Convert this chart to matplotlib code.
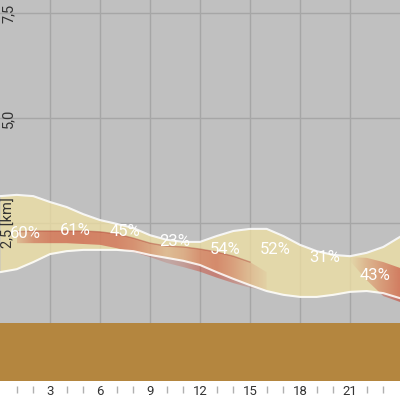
import matplotlib
matplotlib.use('Agg')
import matplotlib.pyplot as plt
import matplotlib.transforms as mtransforms
import matplotlib.colors as mcolors
import numpy as np

plt.rcParams['font.family'] = ['Roboto', 'DejaVu Sans']

# cloud layer (km) per hour 0..24
hours = list(range(25))
cloud_top = [3.14, 3.17, 3.14, 3.00, 2.88, 2.71, 2.57, 2.48, 2.38, 2.21, 2.10, 2.05, 2.05,
             2.19, 2.31, 2.36, 2.36, 2.19, 1.98, 1.83, 1.74, 1.71, 1.79, 1.93, 2.17]
cloud_base = [1.33, 1.40, 1.57, 1.76, 1.83, 1.86, 1.86, 1.86, 1.83, 1.74, 1.67, 1.60, 1.50,
              1.33, 1.17, 1.02, 0.88, 0.79, 0.74, 0.74, 0.79, 0.86, 0.88, 0.83, 0.71]

# denser layer inside / below the cloud
dense_hours = list(range(1, 17))
dense_top = [2.29, 2.31, 2.31, 2.31, 2.31, 2.29, 2.24, 2.14, 2.02, 1.95, 1.93, 1.88, 1.81, 1.71, 1.57, 1.33]
dense_base = [2.02, 2.02, 2.02, 2.02, 2.00, 1.98, 1.90, 1.81, 1.69, 1.55, 1.45, 1.34, 1.20, 1.07, 0.96, 0.88]
dense_alpha = [0.2, 0.5, 0.6, 0.62, 0.62, 0.6, 0.58, 0.5, 0.35, 0.2, 0.3, 0.5, 0.55, 0.4, 0.2, 0.05]

late_hours = [21, 22, 23, 24]
late_top = [1.69, 1.67, 1.57, 1.43]
late_base = [1.60, 1.14, 0.76, 0.62]
late_alpha = [0.0, 0.25, 0.45, 0.65]

# cloud cover labels every 3 hours
label_hours = [1.5, 4.5, 7.5, 10.5, 13.5, 16.5, 19.5, 22.5]
label_km = [2.26, 2.31, 2.29, 2.07, 1.88, 1.86, 1.67, 1.26]
cover = ['60%', '61%', '45%', '23%', '54%', '52%', '31%', '43%']

ground_km = 0.12
ytick_vals = [2.5, 5.0, 7.5]
ytick_text = ['2,5 [km]', '5,0', '7,5']
xtick_vals = [3, 6, 9, 12, 15, 18, 21]
minor_vals = [h for h in range(1, 24) if h % 3 != 0]


def shaded_band(ax, xs, lo, hi, alphas, color):
    # band filled with a colour whose opacity follows alphas along x
    poly = ax.fill_between(xs, lo, hi, color='none', lw=0)
    gx = np.linspace(xs[0], xs[-1], 300)
    a = np.interp(gx, xs, alphas)
    rgb = mcolors.to_rgb(color)
    img = np.zeros((2, len(gx), 4))
    img[..., :3] = rgb
    img[..., 3] = a
    im = ax.imshow(img, extent=[xs[0], xs[-1], min(lo) - 0.1, max(hi) + 0.1],
                   aspect='auto', origin='lower', interpolation='bilinear', zorder=3)
    im.set_clip_path(poly.get_paths()[0], transform=ax.transData)
    return poly


fig = plt.figure(figsize=(4, 3.98), dpi=100)
ax = fig.add_axes([0, 17/398, 1, 381/398])
ax.set_facecolor('#c0c0c0')

for v in xtick_vals:
    ax.axvline(v, color='#a6a6a6', lw=1, zorder=1)
for v in ytick_vals:
    ax.axhline(v, color='#a6a6a6', lw=1, zorder=1)

ax.fill_between(hours, cloud_base, cloud_top, color='#f2e2a2', alpha=0.72, lw=0, zorder=2)

shaded_band(ax, dense_hours, dense_base, dense_top, dense_alpha, '#c94c3a')
ax.plot(dense_hours[:-1], dense_top[:-1], color='#a8362c', lw=1, alpha=0.4, zorder=3)
shaded_band(ax, late_hours, late_base, late_top, late_alpha, '#c94c3a')

ax.plot(hours, cloud_top, color='white', lw=1.5, alpha=0.85, zorder=4)
ax.plot(hours, cloud_base, color='white', lw=1.5, alpha=0.85, zorder=4)

ax.axhspan(-2, ground_km, color='#b4863f', lw=0, zorder=5)

for h, k, t in zip(label_hours, label_km, cover):
    ax.text(h, k, t, color='white', fontsize=12, ha='center', va='center', zorder=6)

trans = mtransforms.blended_transform_factory(ax.transAxes, ax.transData)
for v, t in zip(ytick_vals, ytick_text):
    ax.text(0.021, v, t, transform=trans, rotation=90, ha='center', va='center',
            fontsize=10.5, color='#333333', zorder=7)

ax.set_xlim(0, 24)
ax.set_ylim(-1.262, 7.81)
ax.set_xticks(xtick_vals)
ax.set_xticklabels([str(v) for v in xtick_vals])
ax.tick_params(axis='x', length=0, pad=3, labelsize=9.5, labelcolor='#333333')
ax.set_yticks([])
for s in ax.spines.values():
    s.set_visible(False)
ax.vlines(minor_vals, -0.013, -0.031, transform=ax.get_xaxis_transform(),
          color='#b0b0b0', lw=1, clip_on=False)

fig.savefig('out.png', dpi=100)
